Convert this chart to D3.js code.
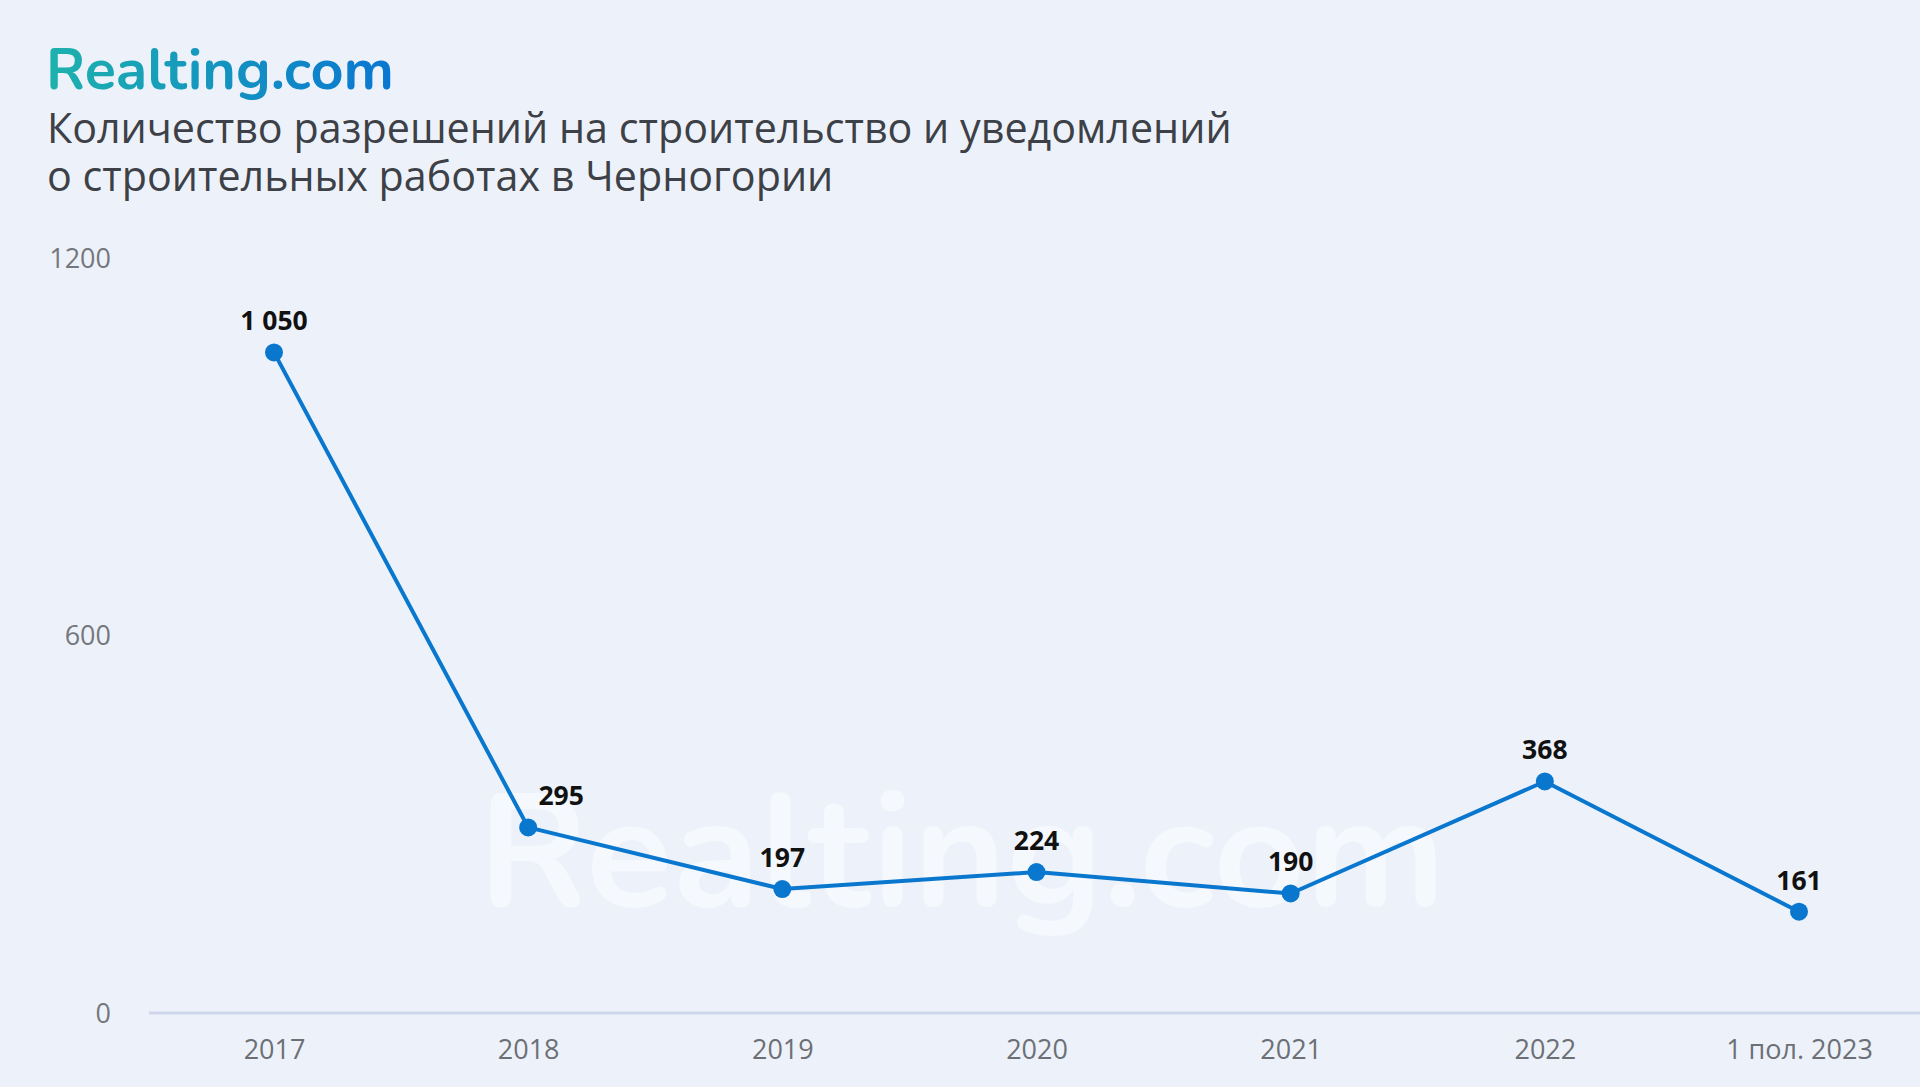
<!DOCTYPE html>
<html><head><meta charset="utf-8">
<script src="https://cdn.jsdelivr.net/npm/d3@7"></script>
<style>
html,body{margin:0;padding:0;background:#edf2fa;}
svg{display:block;}
</style></head>
<body>
<svg id="chart" width="1920" height="1087"></svg>
<script>
const categories = ["2017","2018","2019","2020","2021","2022","1 пол. 2023"];
const values = [1050, 295, 197, 224, 190, 368, 161];
const valueLabels = ["1 050","295","197","224","190","368","161"];
const yTicks = [0, 600, 1200];
const titleLines = ["Количество разрешений на строительство и уведомлений","о строительных работах в Черногории"];
const brand = "Realting.com";

const W = 1920, H = 1087;
const svg = d3.select("#chart");
svg.append("rect").attr("width", W).attr("height", H).attr("fill", "#edf2fa");

const defs = svg.append("defs");
const grad = defs.append("linearGradient").attr("id","logoGrad").attr("x1","0").attr("x2","1").attr("y1","0").attr("y2","0");
grad.append("stop").attr("offset","0%").attr("stop-color","#1eb2ad");
grad.append("stop").attr("offset","100%").attr("stop-color","#0a76d2");

const x = d3.scalePoint().domain(categories).range([274, 1799]);
const y = d3.scaleLinear().domain([0, 1200]).range([1013, 258]);

function fitWidth(sel, target){
  const fs = +sel.attr("font-size");
  const w = sel.node().getComputedTextLength();
  sel.attr("font-size", fs * target / w);
  return fs * target / w;
}

// watermark
const wm = svg.append("text").attr("x", 962).attr("y", 906).attr("text-anchor","middle")
  .attr("font-family","Nunito, 'Open Sans', Lato, sans-serif").attr("font-weight",700)
  .attr("font-size",160).attr("fill","#ffffff").attr("fill-opacity",0.45).text(brand);
fitWidth(wm, 967);

// logo
const logo = svg.append("text").attr("x", 46).attr("y", 89)
  .attr("font-family","Nunito, 'Open Sans', Lato, sans-serif").attr("font-weight",700)
  .attr("font-size",54).attr("fill","url(#logoGrad)").text(brand);
fitWidth(logo, 348);

// title
let titleFs = 40;
titleLines.forEach((t,i)=>{
  const el = svg.append("text").attr("x", 47).attr("y", 143 + i*48)
    .attr("font-family","'Open Sans', 'Noto Sans', sans-serif").attr("font-size",titleFs)
    .attr("fill","#3d4147").text(t);
  if(i===0) titleFs = fitWidth(el, 1185);
});

// y axis
const yAxis = d3.axisLeft(y).tickValues(yTicks).tickSize(0).tickPadding(0).tickFormat(d3.format("d"));
const gy = svg.append("g").attr("transform","translate(111,0)").call(yAxis);
gy.select(".domain").remove();
gy.selectAll("text").attr("font-family","'Open Sans', 'Noto Sans', sans-serif").attr("font-size",27)
  .attr("fill","#74787e").attr("dy","0.35em");

// x axis
const xAxis = d3.axisBottom(x).tickSize(0).tickPadding(0);
const gx = svg.append("g").attr("transform","translate(0,1013)").call(xAxis);
gx.select(".domain").remove();
gx.selectAll("text").attr("font-family","'Open Sans', 'Noto Sans', sans-serif").attr("font-size",27)
  .attr("fill","#6c7076").attr("dy","0").attr("y",46);

svg.append("line").attr("x1",149).attr("x2",1920).attr("y1",y(0)).attr("y2",y(0))
  .attr("stroke","#cdd6ea").attr("stroke-width",3);

// line
const pts = categories.map((c,i)=>({c, v: values[i], lab: valueLabels[i], i}));
svg.append("path").datum(pts)
  .attr("d", d3.line().x(d=>x(d.c)).y(d=>y(d.v)))
  .attr("fill","none").attr("stroke","#0a77cf").attr("stroke-width",4).attr("stroke-linejoin","round");

svg.selectAll("circle.pt").data(pts).enter().append("circle")
  .attr("cx", d=>x(d.c)).attr("cy", d=>y(d.v)).attr("r", 9).attr("fill","#0a77cf");

// label shifted right when the incoming segment is very steep (to keep it clear of the line)
svg.selectAll("text.lab").data(pts).enter().append("text")
  .attr("x", d=> x(d.c) + ((d.i>0 && (y(d.v) - y(values[d.i-1])) > 2*(x(d.c) - x(categories[d.i-1]))*0.5 && y(d.v) - y(values[d.i-1]) > 300) ? 33 : 0))
  .attr("y", d=> y(d.v) - 22)
  .attr("text-anchor","middle")
  .attr("font-family","'Open Sans', 'Noto Sans', sans-serif").attr("font-weight",700)
  .attr("font-size",26.5).attr("fill","#111").text(d=>d.lab);
</script>
</body></html>
